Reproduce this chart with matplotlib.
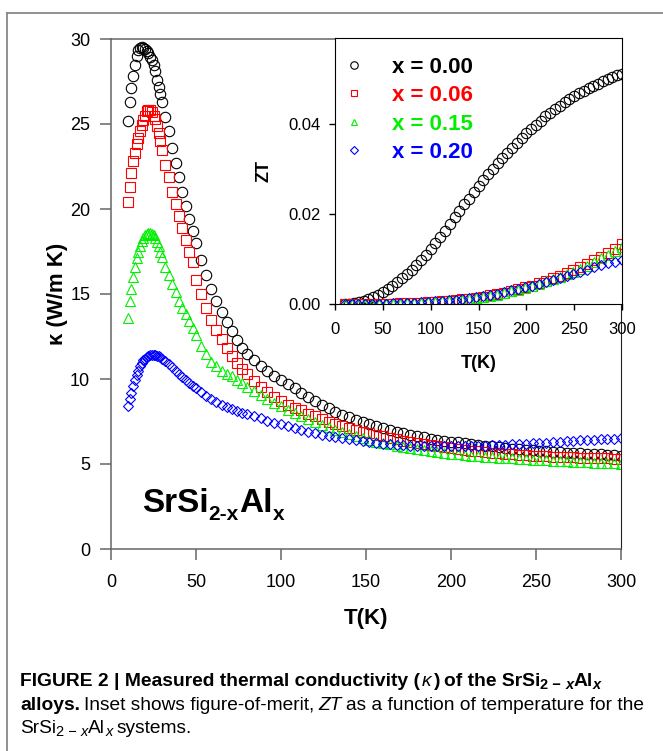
import matplotlib
matplotlib.use("Agg")
import matplotlib.pyplot as plt
from matplotlib.lines import Line2D

plt.rcParams['font.family'] = ['Liberation Sans', 'DejaVu Sans']

# ---- main plot: thermal conductivity ----
T_main = [10, 11, 12, 13, 14, 15, 16, 17, 18, 19, 20, 21, 22, 23, 24, 25, 26, 27, 28, 29, 30,
          32, 34, 36, 38, 40, 42, 44, 46, 48, 50, 53, 56, 59, 62, 65, 68, 71, 74, 77, 80,
          84, 88, 92, 96, 100, 104, 108, 112, 116, 120, 124, 128, 132, 136, 140, 144, 148,
          152, 156, 160, 164, 168, 172, 176, 180, 184, 188, 192, 196, 200, 204, 208, 212,
          216, 220, 224, 228, 232, 236, 240, 244, 248, 252, 256, 260, 264, 268, 272, 276,
          280, 284, 288, 292, 296, 300]

k_000 = [25.2, 26.3, 27.1, 27.8, 28.5, 29.0, 29.35, 29.5, 29.55, 29.5, 29.4, 29.3, 29.15, 28.95,
         28.75, 28.5, 28.1, 27.6, 27.2, 26.75, 26.3,
         25.4, 24.6, 23.6, 22.7, 21.9, 21.0, 20.2, 19.4, 18.7, 18.0, 17.0, 16.1, 15.3, 14.6,
         13.95, 13.35, 12.8, 12.3, 11.85, 11.5,
         11.1, 10.75, 10.45, 10.2, 9.95, 9.7, 9.45, 9.2, 8.95, 8.7, 8.5, 8.3, 8.05, 7.9, 7.75,
         7.6, 7.47, 7.35, 7.23, 7.12, 7.01, 6.91, 6.82, 6.73, 6.65, 6.58, 6.5, 6.44, 6.38,
         6.32, 6.27, 6.22, 6.17, 6.12, 6.07, 6.03, 5.99, 5.95, 5.91, 5.88, 5.84, 5.81, 5.78,
         5.75, 5.72, 5.7, 5.67, 5.65, 5.62, 5.6, 5.58, 5.56, 5.54, 5.52, 5.5]

k_006 = [20.4, 21.3, 22.1, 22.8, 23.3, 23.8, 24.2, 24.6, 24.95, 25.25, 25.5, 25.75, 25.85, 25.8,
         25.7, 25.5, 25.3, 24.9, 24.5, 24.0, 23.5,
         22.6, 21.9, 21.0, 20.3, 19.6, 18.9, 18.2, 17.5, 16.9, 15.8, 15.0, 14.2, 13.5, 12.9,
         12.35, 11.8, 11.35, 10.95, 10.6, 10.3,
         9.9, 9.55, 9.25, 8.95, 8.7, 8.5, 8.3, 8.15, 7.95, 7.8, 7.65, 7.5, 7.37, 7.25, 7.13,
         7.02, 6.91, 6.81, 6.71, 6.62, 6.53, 6.45, 6.37, 6.3, 6.23, 6.16, 6.1, 6.04, 5.98,
         5.93, 5.88, 5.83, 5.79, 5.75, 5.71, 5.67, 5.64, 5.61, 5.58, 5.55, 5.53, 5.5, 5.48,
         5.46, 5.44, 5.42, 5.4, 5.39, 5.37, 5.36, 5.35, 5.34, 5.33, 5.32, 5.31]

k_015 = [13.6, 14.6, 15.3, 16.0, 16.6, 17.1, 17.5, 17.8, 18.1, 18.3, 18.45, 18.55, 18.6, 18.6,
         18.55, 18.45, 18.3, 18.05, 17.8, 17.5, 17.2,
         16.6, 16.1, 15.6, 15.1, 14.6, 14.2, 13.8, 13.4, 13.0, 12.6, 11.95, 11.45, 11.0, 10.75,
         10.5, 10.3, 10.15, 9.95, 9.75, 9.55,
         9.3, 9.05, 8.8, 8.6, 8.4, 8.2, 8.02, 7.85, 7.65, 7.45, 7.3, 7.15, 7.0, 6.87, 6.75,
         6.63, 6.52, 6.41, 6.32, 6.23, 6.15, 6.07, 6.0, 5.93, 5.87, 5.81, 5.75, 5.7, 5.65,
         5.61, 5.57, 5.53, 5.5, 5.47, 5.44, 5.41, 5.38, 5.36, 5.33, 5.31, 5.28, 5.26, 5.24,
         5.22, 5.2, 5.18, 5.16, 5.14, 5.12, 5.1, 5.08, 5.07, 5.05, 5.04, 5.02]

k_020 = [8.4, 8.8, 9.2, 9.6, 9.95, 10.25, 10.5, 10.75, 10.95, 11.1, 11.2, 11.3, 11.38, 11.42,
         11.44, 11.44, 11.42, 11.38, 11.33, 11.27, 11.2,
         11.05, 10.9, 10.7, 10.5, 10.3, 10.1, 9.95, 9.78, 9.6, 9.45, 9.22, 9.0, 8.8, 8.62,
         8.47, 8.33, 8.22, 8.12, 8.02, 7.93,
         7.8, 7.68, 7.55, 7.44, 7.33, 7.22, 7.12, 7.0, 6.9, 6.81, 6.73, 6.65, 6.58, 6.51, 6.45,
         6.39, 6.34, 6.29, 6.24, 6.2, 6.16, 6.13, 6.1, 6.08, 6.06, 6.05, 6.04, 6.03, 6.03,
         6.03, 6.04, 6.05, 6.06, 6.07, 6.08, 6.1, 6.12, 6.13, 6.15, 6.17, 6.19, 6.21, 6.23,
         6.25, 6.28, 6.3, 6.33, 6.36, 6.39, 6.42, 6.44, 6.46, 6.48, 6.5, 6.52]

# ---- inset: figure of merit ZT ----
T_zt0 = [10, 15, 20, 25, 30, 35, 40, 45, 50, 55, 60, 65, 70, 75, 80, 85, 90, 95, 100, 105, 110,
         115, 120, 125, 130, 135, 140, 145, 150, 155, 160, 165, 170, 175, 180, 185, 190, 195,
         200, 205, 210, 215, 220, 225, 230, 235, 240, 245, 250, 255, 260, 265, 270, 275, 280,
         285, 290, 295, 300]
zt_000 = [0.0, 0.0001, 0.0002, 0.0004, 0.0006, 0.0010, 0.0015, 0.0020, 0.0026, 0.0033, 0.0040,
          0.0048, 0.0057, 0.0066, 0.0076, 0.0087, 0.0098, 0.0109, 0.0121, 0.0135, 0.0148,
          0.0163, 0.0178, 0.0193, 0.0207, 0.0221, 0.0234, 0.0248, 0.0262, 0.0275, 0.0288,
          0.0300, 0.0312, 0.0324, 0.0336, 0.0347, 0.0358, 0.0369, 0.0379, 0.0389, 0.0398,
          0.0407, 0.0416, 0.0424, 0.0432, 0.0440, 0.0447, 0.0454, 0.0461, 0.0467, 0.0473,
          0.0479, 0.0484, 0.0489, 0.0494, 0.0499, 0.0503, 0.0507, 0.0510]

T_zt = [10, 17.25, 24.5, 31.75, 39, 46.25, 53.5, 60.75, 68, 75.25, 82.5, 89.75, 97, 104.25,
        111.5, 118.75, 126, 133.25, 140.5, 147.75, 155, 162.25, 169.5, 176.75, 184, 191.25,
        198.5, 205.75, 213, 220.25, 227.5, 234.75, 242, 249.25, 256.5, 263.75, 271, 278.25,
        285.5, 292.75, 300]
zt_006 = [0.0, 0.0, 0.0, 0.0, 0.0, 0.0001, 0.0001, 0.0001, 0.0002, 0.0002, 0.0003, 0.0003,
          0.0004, 0.0005, 0.0006, 0.0007, 0.0008, 0.0010, 0.0012, 0.0014, 0.0016, 0.0019,
          0.0022, 0.0025, 0.0029, 0.0033, 0.0037, 0.0041, 0.0046, 0.0051, 0.0057, 0.0063,
          0.0069, 0.0075, 0.0082, 0.0089, 0.0097, 0.0105, 0.0113, 0.0122, 0.0132]
zt_015 = [0.0, 0.0, 0.0, 0.0, 0.0, 0.0001, 0.0001, 0.0001, 0.0001, 0.0002, 0.0002, 0.0003,
          0.0004, 0.0005, 0.0006, 0.0007, 0.0008, 0.0009, 0.0011, 0.0013, 0.0015, 0.0018,
          0.0021, 0.0024, 0.0028, 0.0032, 0.0036, 0.0040, 0.0045, 0.0050, 0.0055, 0.0060,
          0.0066, 0.0071, 0.0078, 0.0085, 0.0093, 0.0101, 0.0109, 0.0117, 0.0126]
zt_020 = [0.0, 0.0, 0.0, 0.0, 0.0, 0.0001, 0.0001, 0.0002, 0.0002, 0.0003, 0.0003, 0.0004,
          0.0005, 0.0006, 0.0007, 0.0008, 0.0009, 0.0011, 0.0013, 0.0015, 0.0017, 0.0020,
          0.0023, 0.0026, 0.0030, 0.0033, 0.0037, 0.0041, 0.0045, 0.0049, 0.0053, 0.0057,
          0.0062, 0.0067, 0.0071, 0.0076, 0.0081, 0.0086, 0.0090, 0.0094, 0.0098]

labels = ['x = 0.00', 'x = 0.06', 'x = 0.15', 'x = 0.20']
colors = ['black', '#ff0000', '#00f000', '#0000ff']
markers = ['o', 's', '^', 'D']
msizes = [7.5, 6.5, 6.5, 5.5]

W, H = 663, 751
fig = plt.figure(figsize=(W / 100, H / 100), dpi=100)


def px_box(x0, y0, x1, y1):
    return [x0 / W, 1 - y1 / H, (x1 - x0) / W, (y1 - y0) / H]


ax = fig.add_axes(px_box(111, 39, 621, 549))
for k, c, m, s in zip([k_000, k_006, k_015, k_020], colors, markers, msizes):
    ax.plot(T_main, k, ls='none', marker=m, ms=s, mfc='none', mec=c, mew=0.8)
ax.set_xlim(0, 300)
ax.set_ylim(0, 30)
ax.set_xticks(range(0, 301, 50))
ax.set_yticks(range(0, 31, 5))
for side in ['left', 'bottom', 'top']:
    ax.spines[side].set_color('#666666')
    ax.spines[side].set_linewidth(1.1)
ax.spines['right'].set_color('#222222')
ax.tick_params(direction='out', length=8, width=1.1, color='#666666', labelsize=13, pad=7)
ax.tick_params(axis='x', pad=10)
ax.set_xlabel('T(K)', fontsize=16, fontweight='bold', labelpad=12)
ax.set_ylabel('κ (W/m K)', fontsize=16, fontweight='bold', labelpad=1.5)

# inset
axi = fig.add_axes(px_box(335, 38, 622, 304))
axi.set_facecolor('white')
for zt, tt, c, m, s, lab in zip([zt_000, zt_006, zt_015, zt_020], [T_zt0, T_zt, T_zt, T_zt],
                                colors, markers, msizes, labels):
    axi.plot(tt, zt, ls='none', marker=m, ms=s, mfc='none', mec=c, mew=0.8, label=lab)
axi.set_xlim(0, 300)
axi.set_ylim(0, 0.059)
axi.set_xticks(range(0, 301, 50))
axi.set_yticks([0.0, 0.02, 0.04])
axi.set_yticklabels(['0.00', '0.02', '0.04'])
axi.tick_params(direction='out', length=4, width=1, labelsize=12, pad=6)
axi.tick_params(axis='x', pad=9)
axi.set_xlabel('T(K)', fontsize=13, fontweight='bold', labelpad=13)
axi.set_ylabel('ZT', fontsize=13, fontweight='bold', labelpad=12)
leg = axi.legend(loc='upper left', bbox_to_anchor=(0.026, 0.929), frameon=False, markerscale=0.72,
                 handlelength=1.0, handletextpad=1.25, labelspacing=0.33, borderpad=0,
                 borderaxespad=0, prop={'weight': 'bold', 'size': 16}, labelcolor=colors)

# rich text helper: pieces placed side by side on one baseline (pixel coords)
renderer = fig.canvas.get_renderer()


def rich_text(x, y, pieces):
    for txt, props, gap, dy in pieces:
        x += gap
        t = fig.text(x / W, 1 - (y + dy) / H, txt, va='baseline', ha='left', **props)
        x = t.get_window_extent(renderer).x1


big = {'fontsize': 24, 'fontweight': 'bold'}
sub = {'fontsize': 15, 'fontweight': 'bold'}
rich_text(142, 512, [('SrSi', big, 0, 0), ('2-x', sub, 0, 8), ('Al', big, 0, 0), ('x', sub, 0, 8)])

# caption
fb, fn, fss = 13.9, 13.8, 10.5
cb = {'fontsize': fb, 'fontweight': 'bold'}
cn = {'fontsize': fn}
ci = {'fontsize': fn, 'style': 'italic'}
cbs = {'fontsize': fss, 'fontweight': 'bold'}
cbsi = {'fontsize': fss, 'fontweight': 'bold', 'style': 'italic'}
cns = {'fontsize': fss}
cnsi = {'fontsize': fss, 'style': 'italic'}
rich_text(20, 686, [('FIGURE 2 | Measured thermal conductivity (', cb, 0, 0),
                    ('κ', ci, 2, 0), (')', cb, 2, 0), ('of the SrSi', cb, 4, 0),
                    ('2 − ', cbs, 0, 3), ('x', cbsi, 0, 3), ('Al', cb, 0, 0), ('x', cbsi, 0, 3)])
rich_text(20, 710, [('alloys.', cb, 0, 0), ('Inset shows figure-of-merit,', cn, 4, 0),
                    ('ZT', ci, 4, 0), ('as a function of temperature for the', cn, 4, 0)])
rich_text(20, 733, [('SrSi', cn, 0, 0), ('2 − ', cns, 0, 3), ('x', cnsi, 0, 3),
                    ('Al', cn, 0, 0), ('x', cnsi, 0, 3), ('systems.', cn, 4, 0)])

# outer frame
fig.add_artist(Line2D([7 / W, 7 / W], [0, 1 - 13 / H], color='#888888', lw=1.3))
fig.add_artist(Line2D([7 / W, 1], [1 - 13 / H, 1 - 13 / H], color='#888888', lw=1.3))

fig.savefig('out.png', dpi=100)
